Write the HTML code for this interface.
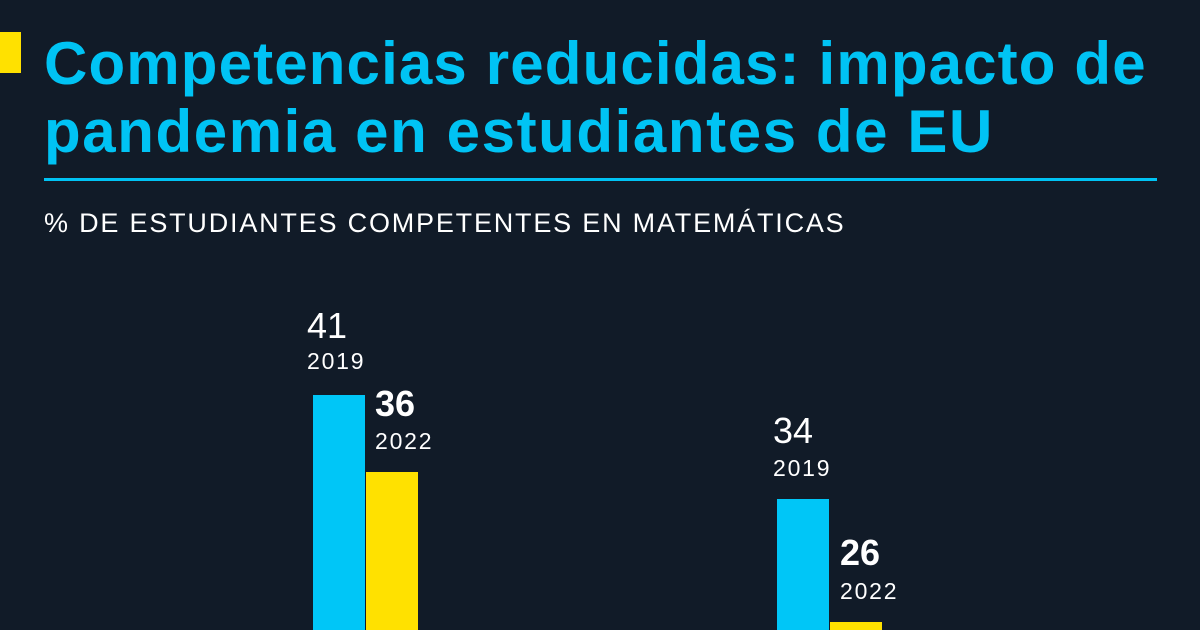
<!DOCTYPE html><html><head><style>
body{margin:0;width:1200px;height:630px;background:#111b28;overflow:hidden;position:relative;font-family:"Liberation Sans",sans-serif;color:#fff}
div{position:absolute}
.t{left:44px;color:#00c3f4;font-weight:bold;font-size:60px;letter-spacing:1.6px;white-space:nowrap;line-height:1}
.n{font-size:36px;line-height:1;letter-spacing:0px}
.y{font-size:23px;line-height:1;letter-spacing:1.8px}
</style></head><body>
<div style="left:0;top:32px;width:21px;height:41px;background:#ffe100"></div>
<div class="t" style="top:34px;letter-spacing:1.15px">Competencias reducidas: impacto de</div>
<div class="t" style="top:102px">pandemia en estudiantes de EU</div>
<div style="left:44px;top:178px;width:1113px;height:3px;background:#00c3f4"></div>
<div style="left:44px;top:210px;font-size:27px;letter-spacing:1.8px;white-space:nowrap;line-height:1">% DE ESTUDIANTES COMPETENTES EN MATEMÁTICAS</div>
<div style="left:313px;top:395px;width:52px;height:235px;background:#00c6f7"></div>
<div style="left:366px;top:472px;width:52px;height:158px;background:#ffe100"></div>
<div style="left:777px;top:499px;width:52px;height:131px;background:#00c6f7"></div>
<div style="left:830px;top:622px;width:52px;height:8px;background:#ffe100"></div>
<div class="n" style="left:307px;top:308px">41</div>
<div class="y" style="left:307px;top:350px">2019</div>
<div class="n" style="left:375px;top:386px;font-weight:bold">36</div>
<div class="y" style="left:375px;top:430px">2022</div>
<div class="n" style="left:773px;top:413px">34</div>
<div class="y" style="left:773px;top:457px">2019</div>
<div class="n" style="left:840px;top:535px;font-weight:bold">26</div>
<div class="y" style="left:840px;top:580px">2022</div>
</body></html>
